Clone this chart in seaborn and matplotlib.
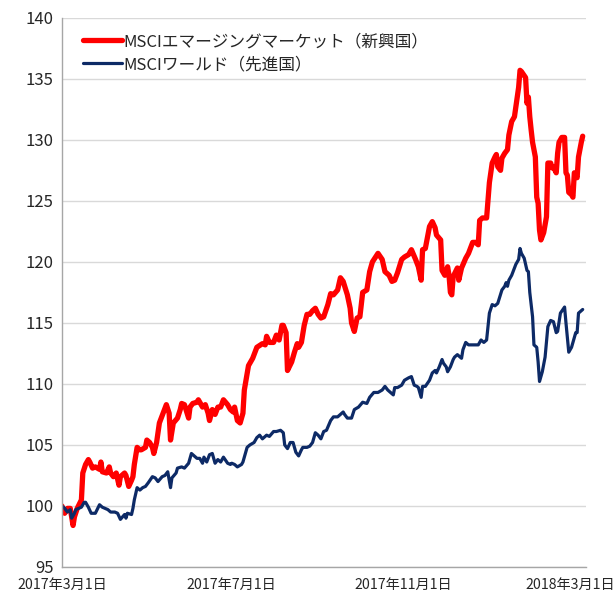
import pandas as pd
import numpy as np
import seaborn as sb
import matplotlib.pyplot as plt
import matplotlib.dates as mdates

# 基準日からの経過日数と指数値（2017年3月1日=100）
inicio = pd.Timestamp("2017-03-01")

dias_em = [0, 2, 4, 6, 8, 9, 11, 14, 15, 17, 19, 20, 22, 24, 27, 28, 29, 32, 34, 35,
           37, 39, 41, 42, 45, 46, 48, 50, 51, 52, 54, 56, 57, 60, 61, 63, 65, 66, 68, 70,
           73, 75, 77, 78, 80, 83, 85, 86, 88, 91, 92, 94, 97, 98, 101, 103, 105, 106, 108, 110,
           112, 114, 116, 119, 121, 123, 124, 126, 128, 130, 131, 134, 137, 140, 144, 146, 147, 149, 152, 154,
           156, 158, 159, 161, 162, 165, 167, 169, 170, 172, 174, 176, 178, 180, 182, 184, 186, 188, 191, 193,
           195, 198, 200, 202, 205, 207, 208, 210, 212, 214, 216, 219, 221, 223, 227, 230, 232, 235, 237, 239,
           241, 244, 246, 249, 251, 254, 256, 258, 259, 261, 264, 266, 268, 269, 272, 273, 275, 277, 278, 279,
           280, 281, 284, 285, 287, 290, 292, 295, 297, 299, 300, 302, 305, 307, 309, 311, 312, 313, 315, 316,
           318, 320, 321, 323, 325, 327, 328, 329, 330, 333, 334, 335, 336, 337, 338, 340, 341, 342, 343, 344,
           346, 348, 349, 351, 352, 353, 355, 356, 357, 359, 361, 362, 363, 364, 366, 367, 368, 370, 371, 373,
           374]
valores_em = [100.0, 99.4, 99.8, 99.8, 98.4, 99.1, 99.8, 100.5, 102.7, 103.4, 103.8, 103.6, 103.1, 103.2, 103.0, 103.6, 102.8, 102.7, 103.2, 102.7,
              102.4, 102.7, 101.7, 102.4, 102.7, 102.5, 101.6, 102.1, 102.4, 103.4, 104.8, 104.6, 104.6, 104.8, 105.4, 105.2, 104.8, 104.3, 105.2, 106.8,
              107.7, 108.3, 107.6, 105.4, 106.8, 107.2, 107.9, 108.4, 108.3, 107.2, 108.1, 108.4, 108.5, 108.7, 108.1, 108.3, 107.6, 107.0, 107.9, 107.5,
              108.1, 108.1, 108.7, 108.3, 107.9, 107.7, 108.1, 107.0, 106.8, 107.6, 109.5, 111.5, 112.1, 113.0, 113.3, 113.2, 113.9, 113.4, 113.4, 114.0,
              113.6, 114.8, 114.8, 114.2, 111.1, 111.8, 112.6, 113.3, 113.0, 113.4, 114.8, 115.7, 115.7, 116.0, 116.2, 115.7, 115.4, 115.5, 116.5, 117.4,
              117.3, 117.7, 118.7, 118.4, 117.3, 116.2, 115.0, 114.3, 115.4, 115.5, 117.5, 117.7, 119.2, 120.0, 120.7, 120.2, 119.2, 118.9, 118.4, 118.5,
              119.1, 120.2, 120.4, 120.6, 121.0, 120.2, 119.6, 118.5, 121.0, 121.1, 122.9, 123.3, 122.8, 122.2, 121.8, 119.3, 118.9, 119.6, 118.9, 117.5,
              117.3, 118.8, 119.5, 118.5, 119.5, 120.3, 120.7, 121.6, 121.6, 121.4, 123.4, 123.6, 123.6, 126.5, 128.1, 128.6, 128.8, 127.8, 127.5, 128.5,
              128.9, 129.2, 130.4, 131.5, 131.9, 133.5, 134.3, 135.7, 135.6, 135.1, 133.0, 133.5, 131.9, 130.8, 129.8, 128.6, 125.3, 124.8, 122.6, 121.8,
              122.4, 123.7, 128.1, 128.1, 127.7, 127.8, 127.3, 128.9, 129.8, 130.2, 130.2, 127.3, 127.1, 125.7, 125.5, 125.3, 127.3, 126.9, 128.6, 129.8,
              130.3]

dias_mundo = [0, 2, 4, 6, 7, 9, 10, 12, 14, 16, 17, 19, 21, 22, 24, 27, 29, 31, 33, 35,
              38, 40, 42, 45, 46, 47, 50, 51, 52, 54, 56, 58, 60, 62, 65, 67, 69, 72, 74, 76,
              78, 79, 82, 83, 86, 88, 91, 93, 94, 97, 99, 101, 102, 104, 106, 108, 110, 112, 114, 116,
              119, 121, 122, 124, 126, 129, 130, 131, 133, 135, 138, 140, 142, 144, 147, 149, 152, 154, 157, 159,
              160, 162, 164, 166, 168, 170, 172, 173, 176, 178, 180, 182, 184, 186, 188, 190, 193, 195, 198, 200,
              202, 203, 205, 208, 210, 213, 216, 219, 221, 224, 227, 230, 232, 234, 236, 238, 239, 241, 244, 246,
              249, 251, 253, 255, 256, 258, 259, 261, 264, 266, 268, 269, 271, 273, 274, 276, 277, 279, 281, 282,
              284, 287, 288, 290, 292, 295, 297, 299, 301, 303, 305, 307, 309, 311, 313, 316, 318, 319, 320, 321,
              323, 324, 326, 328, 329, 330, 332, 334, 335, 336, 338, 339, 341, 342, 343, 345, 347, 349, 351, 353,
              355, 356, 358, 361, 362, 364, 366, 369, 370, 371, 374]
valores_mundo = [100.0, 99.8, 99.5, 99.7, 99.0, 99.4, 99.7, 99.8, 99.9, 100.3, 100.3, 99.9, 99.4, 99.4, 99.4, 100.1, 99.9, 99.8, 99.7, 99.5,
                 99.5, 99.4, 98.9, 99.3, 99.0, 99.4, 99.3, 99.8, 100.5, 101.5, 101.3, 101.5, 101.6, 101.9, 102.4, 102.3, 102.0, 102.4, 102.5, 102.8,
                 101.5, 102.3, 102.7, 103.1, 103.2, 103.1, 103.5, 104.3, 104.2, 103.9, 103.9, 103.5, 104.0, 103.6, 104.2, 104.3, 103.5, 103.8, 103.6, 104.0,
                 103.5, 103.4, 103.5, 103.4, 103.2, 103.4, 103.6, 104.0, 104.8, 105.0, 105.2, 105.6, 105.8, 105.5, 105.8, 105.7, 106.1, 106.1, 106.2, 106.0,
                 105.0, 104.7, 105.2, 105.2, 104.4, 104.1, 104.6, 104.8, 104.8, 104.9, 105.2, 106.0, 105.8, 105.5, 106.1, 106.2, 107.0, 107.3, 107.3, 107.5,
                 107.7, 107.5, 107.2, 107.2, 107.9, 108.1, 108.5, 108.4, 108.9, 109.3, 109.3, 109.5, 109.8, 109.5, 109.3, 109.1, 109.7, 109.7, 109.9, 110.3,
                 110.5, 110.6, 109.9, 109.8, 109.7, 108.9, 109.8, 109.8, 110.3, 110.9, 111.1, 110.9, 111.4, 112.0, 111.7, 111.4, 111.0, 111.4, 112.0, 112.2,
                 112.4, 112.1, 112.8, 113.4, 113.2, 113.2, 113.2, 113.2, 113.6, 113.4, 113.6, 115.8, 116.5, 116.4, 116.6, 117.7, 118.0, 118.3, 118.0, 118.5,
                 118.9, 119.2, 119.8, 120.2, 121.1, 120.7, 120.3, 119.3, 119.2, 117.5, 115.5, 113.2, 113.0, 111.8, 110.2, 111.0, 112.2, 114.7, 115.2, 115.1,
                 114.2, 114.3, 115.8, 116.3, 115.0, 112.6, 113.0, 114.2, 114.2, 115.8, 116.1]

nombre_em = "MSCIエマージングマーケット（新興国）"
nombre_mundo = "MSCIワールド（先進国）"

ticks_x = ["2017-03-01", "2017-07-01", "2017-11-01", "2018-03-01"]
etiquetas_x = ["2017年3月1日", "2017年7月1日", "2017年11月1日", "2018年3月1日"]
ticks_y = [95, 100, 105, 110, 115, 120, 125, 130, 135, 140]

df_em = pd.DataFrame({"fecha": inicio + pd.to_timedelta(dias_em, unit="D"), "valor": valores_em})
df_mundo = pd.DataFrame({"fecha": inicio + pd.to_timedelta(dias_mundo, unit="D"), "valor": valores_mundo})

sb.set_style("white")
plt.rcParams["font.family"] = ["Noto Sans CJK JP", "DejaVu Sans"]

fig = plt.figure(figsize=(6.13, 5.94), dpi=100)
ax = fig.add_axes([0.101, 0.0455, 0.855, 0.9245])

sb.lineplot(data=df_em, x="fecha", y="valor", color="#ff0000", linewidth=3.8,
            estimator=None, sort=False, label=nombre_em, ax=ax)
sb.lineplot(data=df_mundo, x="fecha", y="valor", color="#0d2a66", linewidth=2.3,
            estimator=None, sort=False, label=nombre_mundo, ax=ax)

ax.set_ylim(95, 140)
ax.set_xlim(inicio, inicio + pd.Timedelta(days=376.4))
ax.set_yticks(ticks_y)
ax.set_xticks(pd.to_datetime(ticks_x))
ax.set_xticklabels(etiquetas_x, fontsize=10.2)
ax.tick_params(axis="y", labelsize=12, length=0, pad=6)
ax.tick_params(axis="x", length=4, color="#a6a6a6", direction="out", pad=4)
ax.set_xlabel("")
ax.set_ylabel("")

ax.grid(axis="y", color="#d9d9d9", linewidth=1)
ax.set_axisbelow(True)
for lado in ["top", "right"]:
    ax.spines[lado].set_visible(False)
for lado in ["left", "bottom"]:
    ax.spines[lado].set_color("#a6a6a6")
    ax.spines[lado].set_linewidth(1)

ax.legend(loc="upper left", bbox_to_anchor=(0.022, 0.99), frameon=False, fontsize=12,
          handlelength=2.3, handletextpad=0.1, labelspacing=0.35, borderaxespad=0.2)

plt.savefig("out.png", dpi=100)
